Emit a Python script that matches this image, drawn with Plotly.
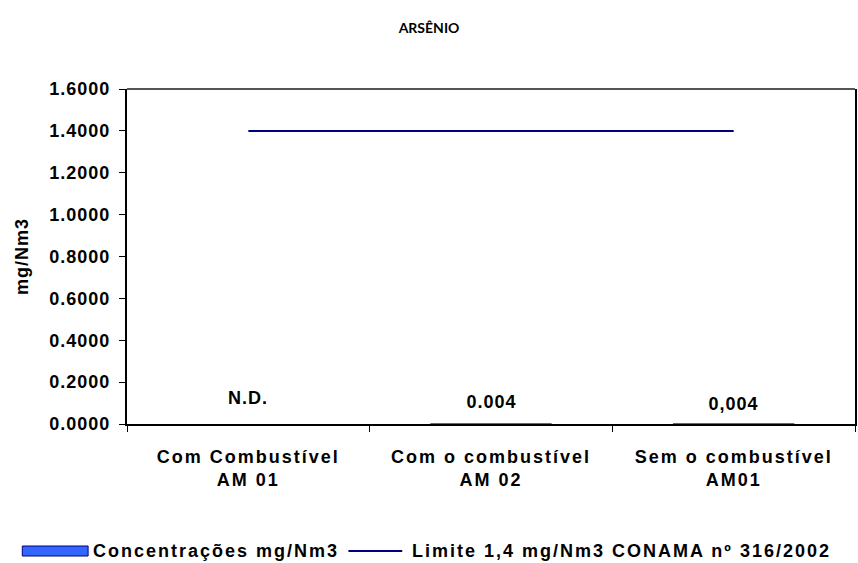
import plotly.graph_objects as go

# Sampling points and measured arsenic concentrations (mg/Nm3)
categories = ["Com Combustível<br>AM 01", "Com o combustível<br>AM 02", "Sem o combustível<br>AM01"]
concentracoes = [None, 0.004, 0.004]          # first sample not detected
rotulos = ["N.D.", "0.004", "0,004"]
limite = [1.4, 1.4, 1.4]                      # CONAMA 316/2002 limit

y_ticks = [0.0, 0.2, 0.4, 0.6, 0.8, 1.0, 1.2, 1.4, 1.6]

W, H = 858, 563
ML, MR, MT, MB = 127, 1, 89, 139
PW, PH = W - ML - MR, H - MT - MB


def px_x(px):
    return (px - ML) / PW


def px_y(py):
    return (H - MB - py) / PH


FONT = "Liberation Sans, Arial, sans-serif"
BAR_BLUE = "#3366ff"
NAVY = "#00007f"

fig = go.Figure()

fig.add_trace(go.Bar(
    x=categories, y=concentracoes, width=0.5,
    marker=dict(color=BAR_BLUE, line=dict(width=0)),
    name="Concentrações mg/Nm3", showlegend=False,
))

fig.add_trace(go.Scatter(
    x=categories, y=limite, mode="lines",
    line=dict(color=NAVY, width=2),
    name="Limite 1,4 mg/Nm3 CONAMA nº 316/2002", showlegend=False,
))

# value labels above each bar
label_shift = [26, 21, 19]
for cat, val, txt, dy in zip(categories, concentracoes, rotulos, label_shift):
    fig.add_annotation(
        x=cat, y=val if val is not None else 0, text=txt,
        showarrow=False, yshift=dy, yanchor="middle",
        font=dict(family=FONT, size=18, color="black", weight="bold"),
    )

# legend drawn below the axis (texts centred so extra spacing grows evenly)
LEG_Y = 551
fig.add_shape(type="rect", xref="paper", yref="paper",
              x0=px_x(22), x1=px_x(88), y0=px_y(LEG_Y + 5), y1=px_y(LEG_Y - 5),
              fillcolor=BAR_BLUE, line=dict(color=NAVY, width=1))
fig.add_annotation(xref="paper", yref="paper", x=px_x(216), y=px_y(LEG_Y),
                   xanchor="center", yanchor="middle", showarrow=False,
                   text="Concentrações mg/Nm3",
                   font=dict(family=FONT, size=18, color="black", weight="bold"))
fig.add_shape(type="line", xref="paper", yref="paper",
              x0=px_x(349), x1=px_x(403), y0=px_y(LEG_Y), y1=px_y(LEG_Y),
              line=dict(color=NAVY, width=2))
fig.add_annotation(xref="paper", yref="paper", x=px_x(623), y=px_y(LEG_Y),
                   xanchor="center", yanchor="middle", showarrow=False,
                   text="Limite 1,4 mg/Nm3 CONAMA nº 316/2002",
                   font=dict(family=FONT, size=18, color="black", weight="bold"))

# top frame edge
fig.add_shape(type="line", xref="paper", yref="paper", x0=0, x1=1, y0=1, y1=1,
              line=dict(color="#555555", width=2))

fig.update_layout(
    width=W, height=H,
    margin=dict(l=ML, r=MR, t=MT, b=MB),
    paper_bgcolor="white", plot_bgcolor="white",
    title=dict(text="ARSÊNIO", x=0.5, xref="container", xanchor="center",
               y=1 - 28 / H, yref="container", yanchor="middle",
               font=dict(family="Lato, sans-serif", size=14, color="black", weight="bold")),
    showlegend=False,
    bargap=0.5,
)

fig.update_xaxes(
    type="category", tickson="boundaries",
    showline=True, linecolor="black", linewidth=2,
    ticks="outside", ticklen=6, tickcolor="black", tickwidth=1,
    showgrid=False, zeroline=False,
    tickfont=dict(family=FONT, size=18, color="black", weight="bold"),
    ticklabelstandoff=15,
)

fig.update_yaxes(
    range=[0, 1.6], tickvals=y_ticks, tickformat=".4f",
    showline=True, linecolor="black", linewidth=2, mirror=True,
    ticks="outside", ticklen=6, tickcolor="black", tickwidth=1,
    showgrid=False, zeroline=False,
    tickfont=dict(family=FONT, size=18, color="black", weight="bold"),
    ticklabelstandoff=5,
    title=dict(text="mg/Nm3", standoff=22,
               font=dict(family=FONT, size=18, color="black", weight="bold")),
)

# slightly wider character spacing for the bold Arial-style labels
spacing_js = """
var st = document.createElement('style');
st.textContent = '.annotation text.annotation-text{letter-spacing:1px}' +
                 '.annotation[data-index="3"] text.annotation-text,' +
                 '.annotation[data-index="4"] text.annotation-text{letter-spacing:2px}' +
                 '.xtick text{letter-spacing:2px}' +
                 '.ytick text{letter-spacing:1px}' +
                 '.g-ytitle text{letter-spacing:1px}';
document.head.appendChild(st);
"""

fig.write_html("out.html", post_script=spacing_js)
